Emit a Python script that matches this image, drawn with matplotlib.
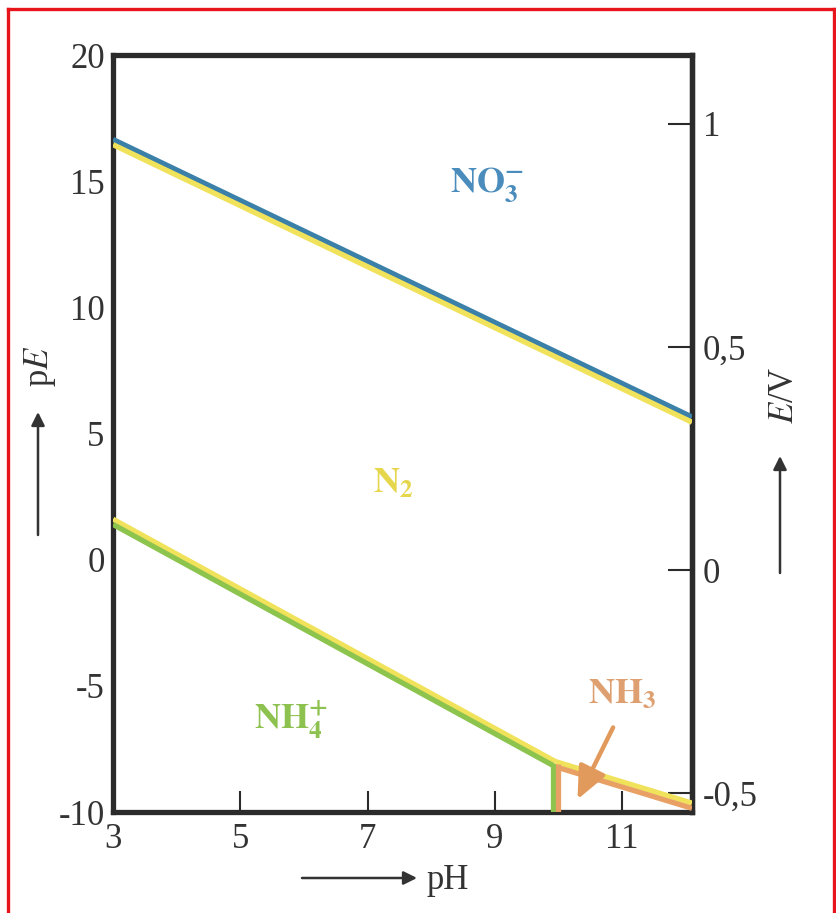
import matplotlib
matplotlib.use('Agg')
import matplotlib.pyplot as plt
from matplotlib.transforms import offset_copy
from matplotlib.lines import Line2D

plt.rcParams['font.family'] = ['Liberation Serif', 'DejaVu Serif']
plt.rcParams['mathtext.fontset'] = 'stix'
plt.rcParams['axes.unicode_minus'] = False

# ---------------- data ----------------
ph_ticks = [3, 5, 7, 9, 11]
pe_ticks = [-10, -5, 0, 5, 10, 15, 20]
e_ticks = [-0.5, 0, 0.5, 1]
e_labels = ['-0,5', '0', '0,5', '1']

no3_n2_ph = [3.0, 12.1]
no3_n2_pe = [16.55, 5.55]
n2_nh4_ph = [3.0, 9.95]
n2_nh4_pe = [1.5, -8.1]
n2_nh3_ph = [9.95, 12.1]
n2_nh3_pe = [-8.1, -9.75]
nh4_nh3_ph = [9.95, 9.95]
nh4_nh3_pe = [-10.0, -8.1]

species = [r'$\mathbf{NO_3^{-}}$', r'$\mathbf{N_2}$', r'$\mathbf{NH_4^{+}}$', r'$\mathbf{NH_3}$']
species_ph = [8.88, 7.4, 5.8, 11.0]
species_pe = [14.85, 3.0, -6.35, -5.35]

# ---------------- style ----------------
W, H, DPI = 837, 913, 100
BLUE = '#3a80a8'
YELLOW = '#f0e25a'
GREEN = '#8cc44e'
ORANGE = '#e8a064'
DARK = '#2b2b2b'
TXT = '#333333'
species_col = ['#4a8cbc', '#e6d64c', '#8ec250', '#dea070']

fig = plt.figure(figsize=(W / DPI, H / DPI), dpi=DPI)
fig.patch.set_facecolor('white')
ax = fig.add_axes([113 / W, 101 / H, (692 - 113) / W, (858 - 101) / H])
ax.set_xlim(3, 12.1)
ax.set_ylim(-10, 20)

lw = 3.8
def edge(x, y, color, dx=0, dy=0):
    tr = offset_copy(ax.transData, fig=fig, x=dx, y=dy, units='dots')
    ax.plot(x, y, color=color, lw=lw, transform=tr, solid_capstyle='butt', zorder=3)

# NO3-/N2 boundary: blue above, yellow below
edge(no3_n2_ph, no3_n2_pe, BLUE, dy=2.6)
edge(no3_n2_ph, no3_n2_pe, YELLOW, dy=-2.6)
# N2/NH4+ boundary: yellow above, green below
edge(n2_nh4_ph, n2_nh4_pe, YELLOW, dy=2.6)
edge(n2_nh4_ph, n2_nh4_pe, GREEN, dy=-2.6)
# N2/NH3 boundary: yellow above, orange below
edge(n2_nh3_ph, n2_nh3_pe, YELLOW, dy=2.6)
edge(n2_nh3_ph, n2_nh3_pe, ORANGE, dy=-2.6)
# NH4+/NH3 boundary: green left, orange right
edge(nh4_nh3_ph, nh4_nh3_pe, GREEN, dx=-2.6)
edge(nh4_nh3_ph, nh4_nh3_pe, ORANGE, dx=2.6)

for t, x, y, c in zip(species, species_ph, species_pe, species_col):
    ax.text(x, y, t, color=c, fontsize=26, ha='center', va='center', zorder=4)

ax.annotate('', xy=(10.30, -9.5), xytext=(10.86, -6.65),
            arrowprops=dict(arrowstyle='-|>,head_length=0.9,head_width=0.4', lw=3.2,
                            color='#e29a5c', mutation_scale=22, shrinkA=0, shrinkB=0),
            zorder=5)

for s in ax.spines.values():
    s.set_linewidth(3.8)
    s.set_color(DARK)

ax.set_xticks(ph_ticks)
ax.set_yticks(pe_ticks)
ax.set_xticklabels([str(v) for v in ph_ticks])
ax.set_yticklabels([str(v) for v in pe_ticks])
ax.tick_params(axis='x', direction='in', length=15, width=1.5, color=DARK,
               labelsize=25, labelcolor=TXT, pad=8)
ax.tick_params(axis='y', direction='in', length=0, labelsize=25,
               labelcolor=TXT, pad=6)

# right axis in volts
def pe_to_e(p):
    return (p + 0.41) / 17.68
def e_to_pe(e):
    return e * 17.68 - 0.41
sec = ax.secondary_yaxis('right', functions=(pe_to_e, e_to_pe))
sec.set_yticks(e_ticks)
sec.set_yticklabels(e_labels)
sec.tick_params(direction='in', length=17, width=1.5, color=DARK,
                labelsize=25, labelcolor=TXT, pad=8)
sec.spines['right'].set_linewidth(3.8)
sec.spines['right'].set_color(DARK)

# axis labels with arrows (figure pixels, origin bottom-left)
def fp(x, y):
    return (x, H - y)

fig.text(448 / W, 1 - 880 / H, 'pH', fontsize=25, color=TXT, ha='center', va='center')
ax.annotate('', xy=fp(417, 878), xytext=fp(302, 878), xycoords='figure pixels',
            textcoords='figure pixels',
            arrowprops=dict(arrowstyle='-|>', lw=1.8, color=TXT, mutation_scale=20,
                            shrinkA=0, shrinkB=0), annotation_clip=False)

fig.text(40 / W, 1 - 366 / H, r'p$E$', fontsize=25, color=TXT, ha='center', va='center',
         rotation=90)
ax.annotate('', xy=fp(38, 412), xytext=fp(38, 535), xycoords='figure pixels',
            textcoords='figure pixels',
            arrowprops=dict(arrowstyle='-|>', lw=1.8, color=TXT, mutation_scale=20,
                            shrinkA=0, shrinkB=0), annotation_clip=False)

fig.text(785 / W, 1 - 395 / H, r'$E$/V', fontsize=25, color=TXT, ha='center', va='center',
         rotation=90)
ax.annotate('', xy=fp(780, 456), xytext=fp(780, 573), xycoords='figure pixels',
            textcoords='figure pixels',
            arrowprops=dict(arrowstyle='-|>', lw=1.8, color=TXT, mutation_scale=20,
                            shrinkA=0, shrinkB=0), annotation_clip=False)

# red frame
red = '#e8141c'
for xs, ys in [((8, 8), (9, H)), ((8, 834), (9, 9)), ((834, 834), (9, H))]:
    fig.add_artist(Line2D([x / W for x in xs], [1 - y / H for y in ys],
                          transform=fig.transFigure, color=red, lw=2.4))

fig.savefig('out.png', dpi=DPI, facecolor='white')
